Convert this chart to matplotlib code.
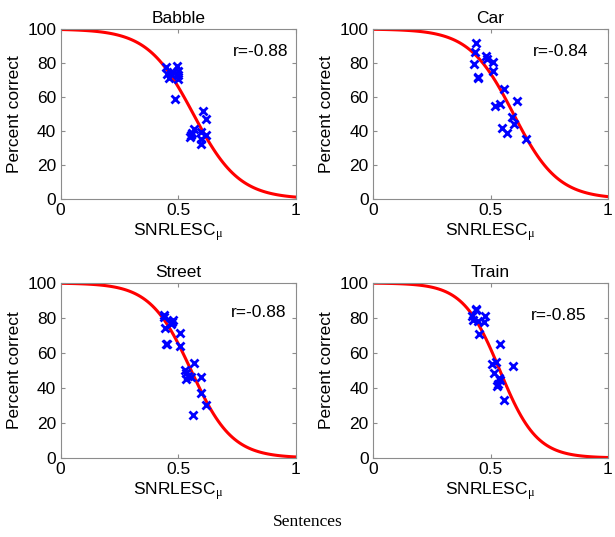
import numpy as np
import matplotlib
matplotlib.use("Agg")
import matplotlib.pyplot as plt

titles = ["Babble", "Car", "Street", "Train"]
r_labels = ["r=-0.88", "r=-0.84", "r=-0.88", "r=-0.85"]

babble_x = [0.446, 0.453, 0.460, 0.470, 0.477, 0.494, 0.498, 0.499, 0.501, 0.488,
            0.607, 0.618, 0.569, 0.559, 0.552, 0.597, 0.618, 0.597, 0.597, 0.554]
babble_y = [77.8, 73.8, 71.3, 73.8, 74.8, 78.3, 75.4, 73.2, 70.5, 58.7,
            51.6, 46.9, 41.3, 38.8, 36.4, 39.4, 37.8, 35.4, 32.1, 37.4]

car_x = [0.439, 0.435, 0.429, 0.445, 0.447, 0.482, 0.485, 0.511, 0.511, 0.559,
         0.521, 0.542, 0.613, 0.592, 0.602, 0.549, 0.571, 0.652]
car_y = [91.9, 86.6, 79.7, 71.5, 70.9, 84.1, 82.1, 80.7, 75.4, 65.0,
         54.5, 56.1, 57.7, 48.2, 44.3, 41.9, 38.8, 35.4]

street_x = [0.438, 0.441, 0.443, 0.448, 0.454, 0.470, 0.476, 0.472, 0.508, 0.508,
            0.566, 0.530, 0.533, 0.540, 0.533, 0.554, 0.597, 0.597, 0.618, 0.564]
street_y = [81.9, 80.6, 74.5, 65.3, 65.3, 76.8, 79.0, 77.7, 71.6, 63.8,
            54.3, 50.5, 48.6, 46.7, 45.0, 46.3, 46.3, 37.3, 30.5, 24.8]

train_x = [0.439, 0.437, 0.421, 0.424, 0.445, 0.471, 0.476, 0.449, 0.542, 0.506,
           0.525, 0.514, 0.595, 0.535, 0.539, 0.531, 0.528, 0.556]
train_y = [85.3, 84.4, 81.0, 79.0, 78.3, 77.7, 81.3, 71.0, 65.3, 53.5,
           54.9, 48.8, 52.4, 45.7, 44.8, 42.1, 41.1, 33.0]

# logistic fit parameters (slope, midpoint)
fit_slope = [10.3, 10.6, 11.5, 12.8]
fit_mid = [0.564, 0.598, 0.555, 0.540]

xs = [babble_x, car_x, street_x, train_x]
ys = [babble_y, car_y, street_y, train_y]
r_pos = [(0.85, 86.5), (0.80, 86.5), (0.84, 83.0), (0.79, 81.5)]

W, H = 615, 537
fig = plt.figure(figsize=(W / 100, H / 100), dpi=100)
plt.rcParams['font.family'] = ['Liberation Sans', 'DejaVu Sans']
plt.rcParams['mathtext.fontset'] = 'custom'
plt.rcParams['mathtext.rm'] = 'Liberation Serif'
plt.rcParams['mathtext.it'] = 'Liberation Serif'

lefts = [60.5, 373, 60.5, 373]
rights = [296, 608, 296, 608]
tops = [29, 29, 283, 283]
bottoms = [199, 199, 458, 458]

gray = "#8c8c8c"
fs = 12.5
xc = np.linspace(0, 1, 101)
for i in range(4):
    ax = fig.add_axes([lefts[i] / W, 1 - bottoms[i] / H,
                       (rights[i] - lefts[i]) / W, (bottoms[i] - tops[i]) / H])
    yc = 100.0 / (1 + np.exp(fit_slope[i] * (xc - fit_mid[i])))
    ax.plot(xc, yc, color="red", lw=2.2, zorder=2)
    ax.plot(xs[i], ys[i], linestyle="none", marker="x", color="blue",
            markersize=5.5, markeredgewidth=2.0, zorder=3)
    ax.set_xlim(0, 1)
    ax.set_ylim(0, 100)
    ax.set_xticks([0, 0.5, 1])
    ax.set_xticklabels(["0", "0.5", "1"])
    ax.set_yticks([0, 20, 40, 60, 80, 100])
    ax.tick_params(direction="in", top=True, right=True, length=3, color=gray,
                   labelsize=fs, pad=3)
    for s in ax.spines.values():
        s.set_color(gray)
        s.set_linewidth(0.8)
    ax.set_title(titles[i], fontsize=fs, pad=4)
    ax.set_xlabel("SNRLESC$_{\\mathrm{\u03bc}}$", fontsize=fs, labelpad=2)
    ax.set_ylabel("Percent correct", fontsize=fs, labelpad=4)
    ax.text(r_pos[i][0], r_pos[i][1], r_labels[i], fontsize=fs,
            ha="center", va="center")

fig.text(308 / W, 1 - 522 / H, "Sentences", fontsize=12.5,
         family=["Liberation Serif", "DejaVu Serif"], ha="center", va="center")

fig.savefig("out.png", dpi=100)
